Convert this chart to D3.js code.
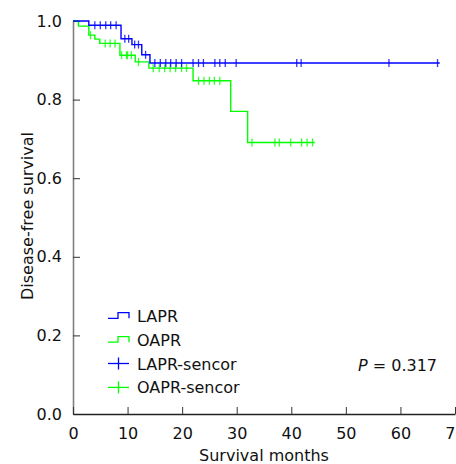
<!DOCTYPE html>
<html>
<head>
<meta charset="utf-8">
<script src="https://cdn.jsdelivr.net/npm/d3@7"></script>
<style>
  body { margin: 0; background: #fff; }
  svg text { font-family: "DejaVu Sans", Verdana, sans-serif; font-size: 16px; fill: #111; }
</style>
</head>
<body>
<script>
// survival steps
const laprTimes = [0, 2.9, 8.8, 10.8, 12.6, 14.1];
const laprSurv  = [1.0, 0.989, 0.955, 0.940, 0.914, 0.893];
const laprEnd = 67.2;
const laprCensor = [4.0, 5.0, 6.0, 6.9, 7.9, 9.5, 10.2, 11.3, 12.0, 13.3,
  15.0, 16.0, 17.0, 17.9, 18.9, 19.9, 22.0, 23.0, 23.9, 26.0, 26.9, 27.9, 29.9,
  41.0, 41.8, 57.9, 66.8];

const oaprTimes = [0, 1.0, 2.9, 4.0, 4.9, 8.6, 11.4, 13.9, 22.0, 28.9, 32.0];
const oaprSurv  = [1.0, 0.987, 0.964, 0.954, 0.943, 0.913, 0.896, 0.880, 0.848, 0.770, 0.691];
const oaprEnd = 44.3;
const oaprCensor = [3.2, 5.9, 6.8, 7.7, 8.9, 9.8, 10.0, 10.7, 12.0,
  14.7, 15.8, 16.8, 17.8, 18.8, 19.9, 20.8, 23.0, 24.0, 25.0, 25.9, 26.9,
  32.8, 37.0, 37.8, 39.9, 41.9, 42.9, 43.9];

const xTicks = [0, 10, 20, 30, 40, 50, 60, 70];
const yTicks = [0, 0.2, 0.4, 0.6, 0.8, 1.0];
const legendLabels = ["LAPR", "OAPR", "LAPR-sencor", "OAPR-sencor"];
const legendKinds = ["step", "step", "plus", "plus"];
const blue = "#0000ff", green = "#00ff00";
const legendColors = [blue, green, blue, green];

const width = 456, height = 464;
const x = d3.scaleLinear().domain([0, 70]).range([73, 455]);
const y = d3.scaleLinear().domain([0, 1]).range([414, 21]);

const svg = d3.select("body").append("svg")
  .attr("width", width)
  .attr("height", height);

// axes
const yAxis = svg.append("g")
  .attr("transform", `translate(${x(0)},0)`)
  .call(d3.axisLeft(y).tickValues(yTicks).tickFormat(d3.format(".1f"))
    .tickSizeInner(-7).tickSizeOuter(0).tickPadding(11));
yAxis.select(".domain").attr("stroke", "#808080").attr("stroke-width", 1.6);
yAxis.selectAll(".tick line").attr("stroke", "#333");

const xAxis = svg.append("g")
  .attr("transform", `translate(0,${y(0)})`)
  .call(d3.axisBottom(x).tickValues(xTicks).tickFormat(d3.format("d"))
    .tickSizeInner(-7).tickSizeOuter(0).tickPadding(14));
xAxis.select(".domain").attr("stroke", "#222").attr("stroke-width", 1.4);
xAxis.selectAll(".tick line").attr("stroke", "#333");
svg.selectAll(".tick text").style("font-size", "16px").attr("fill", "#111");

// titles
svg.append("text")
  .attr("x", 264).attr("y", 461)
  .attr("text-anchor", "middle")
  .text("Survival months");
svg.append("text")
  .attr("transform", "translate(33,216) rotate(-90)")
  .attr("text-anchor", "middle")
  .text("Disease-free survival");

// curves
function stepPoints(times, surv, end) {
  const pts = [];
  times.forEach((t, i) => {
    if (i > 0) pts.push([t, surv[i - 1]]);
    pts.push([t, surv[i]]);
  });
  pts.push([end, surv[surv.length - 1]]);
  return pts;
}
function survAt(times, surv, t) {
  let v = surv[0];
  times.forEach((tt, i) => { if (tt <= t) v = surv[i]; });
  return v;
}
const line = d3.line().x(d => x(d[0])).y(d => y(d[1]));

const groups = [
  { times: oaprTimes, surv: oaprSurv, end: oaprEnd, censor: oaprCensor, color: green },
  { times: laprTimes, surv: laprSurv, end: laprEnd, censor: laprCensor, color: blue }
];

groups.forEach(g => {
  svg.append("path")
    .attr("d", line(stepPoints(g.times, g.surv, g.end)))
    .attr("fill", "none")
    .attr("stroke", g.color)
    .attr("stroke-width", 1.4);
  svg.append("g").selectAll("line")
    .data(g.censor)
    .join("line")
      .attr("x1", d => x(d)).attr("x2", d => x(d))
      .attr("y1", d => y(survAt(g.times, g.surv, d)) - 4)
      .attr("y2", d => y(survAt(g.times, g.surv, d)) + 4)
      .attr("stroke", g.color)
      .attr("stroke-opacity", 0.8)
      .attr("stroke-width", 1.3);
});

// legend
const legend = svg.append("g");
legendLabels.forEach((lab, i) => {
  const base = 321.7 + i * 23.9;
  const c = legendColors[i];
  if (legendKinds[i] === "step") {
    legend.append("path")
      .attr("d", `M108,${base - 3.4}H118V${base - 9}H129V${base - 3.4}`)
      .attr("fill", "none").attr("stroke", c).attr("stroke-width", 1.3);
  } else {
    legend.append("line")
      .attr("x1", 108).attr("x2", 129).attr("y1", base - 6).attr("y2", base - 6)
      .attr("stroke", c).attr("stroke-width", 1.3);
    legend.append("line")
      .attr("x1", 118.5).attr("x2", 118.5).attr("y1", base - 12).attr("y2", base)
      .attr("stroke", c).attr("stroke-width", 1.3);
  }
  legend.append("text")
    .attr("x", 137).attr("y", base)
    .text(lab);
});

// p value
const pt = svg.append("text").attr("x", 358).attr("y", 371);
pt.append("tspan").style("font-style", "italic").text("P");
pt.append("tspan").text(" = 0.317");
</script>
</body>
</html>
